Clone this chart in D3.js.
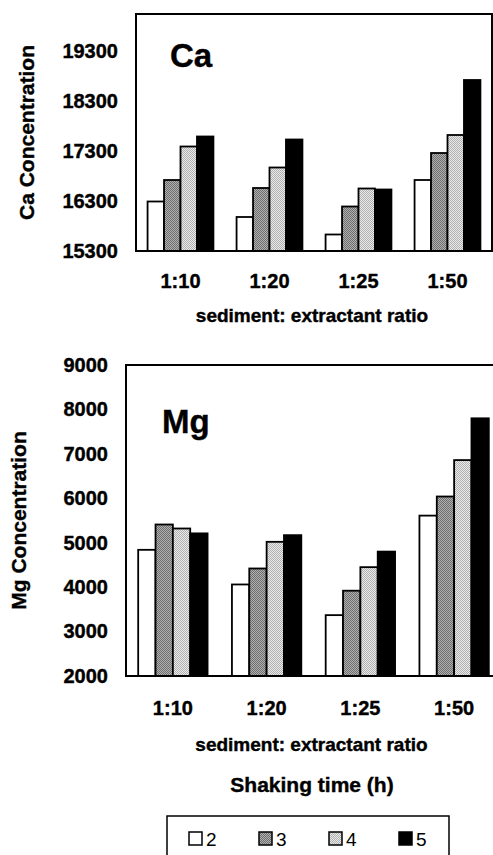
<!DOCTYPE html>
<html>
<head>
<meta charset="utf-8">
<script src="https://cdn.jsdelivr.net/npm/d3@7/dist/d3.min.js"></script>
<style>
  body { margin: 0; background: #fff; }
  svg { display: block; font-family: "Liberation Sans", Arial, Helvetica, sans-serif; }
  .heavy { stroke: #000; stroke-width: 0.4px; }
</style>
</head>
<body>
<svg id="chart" width="493" height="855"></svg>
<script>
"use strict";

// categories and series
var ratios = ['1:10', '1:20', '1:25', '1:50'];
var times = ['2', '3', '4', '5'];

// values by shaking time (rows) for each ratio (columns)
var caValues = [
  [16290, 15980, 15630, 16720],
  [16720, 16560, 16190, 17260],
  [17390, 16970, 16550, 17620],
  [17590, 17530, 16530, 18720]
];
var mgValues = [
  [4840, 4060, 3370, 5610],
  [5410, 4420, 3920, 6040],
  [5320, 5020, 4450, 6860],
  [5210, 5170, 4800, 7800]
];

var caTicks = [15300, 16300, 17300, 18300, 19300];
var mgTicks = [2000, 3000, 4000, 5000, 6000, 7000, 8000, 9000];

var svg = d3.select('#chart');

// fill patterns for the shaded series
var defs = svg.append('defs');
function checker(id, dark, light) {
  var p = defs.append('pattern')
    .attr('id', id)
    .attr('width', 2).attr('height', 2)
    .attr('patternUnits', 'userSpaceOnUse');
  p.append('rect').attr('width', 2).attr('height', 2).attr('fill', light);
  p.append('rect').attr('width', 1).attr('height', 1).attr('fill', dark);
  p.append('rect').attr('x', 1).attr('y', 1).attr('width', 1).attr('height', 1).attr('fill', dark);
}
checker('pat3', '#6e6e6e', '#b0b0b0');
checker('pat4', '#b0b0b0', '#eaeaea');

var fills = ['#ffffff', 'url(#pat3)', 'url(#pat4)', '#000000'];

function panel(o) {
  var x0 = d3.scaleBand()
    .domain(ratios)
    .range([o.left, o.right])
    .paddingInner(0.26)
    .paddingOuter(0.13);

  var x1 = d3.scaleBand()
    .domain(times)
    .range([0, x0.bandwidth()]);

  var y = d3.scaleLinear()
    .domain(o.domain)
    .range([o.bottom, o.top]);

  var g = svg.append('g');

  // bars
  times.forEach(function(t, i) {
    g.append('g').selectAll('rect')
      .data(o.values[i])
      .enter().append('rect')
        .attr('x', function(d, j) { return x0(ratios[j]) + x1(t); })
        .attr('y', function(d) { return y(d); })
        .attr('width', x1.bandwidth())
        .attr('height', function(d) { return o.bottom - y(d); })
        .attr('fill', fills[i])
        .attr('stroke', '#000')
        .attr('stroke-width', 1.8);
  });

  // frame
  g.append('rect')
    .attr('x', o.left).attr('y', o.top)
    .attr('width', o.right - o.left)
    .attr('height', o.bottom - o.top)
    .attr('fill', 'none')
    .attr('stroke', '#000')
    .attr('stroke-width', 2);

  var yAxis = d3.axisLeft(y).tickValues(o.ticks).tickSize(0).tickPadding(18).tickFormat(d3.format('d'));
  var ya = g.append('g')
    .attr('transform', 'translate(' + o.left + ',0)')
    .call(yAxis);
  ya.select('.domain').remove();
  ya.attr('font-family', null);
  ya.selectAll('text')
    .attr('class', 'heavy')
    .attr('font-size', 20)
    .attr('font-weight', 'bold')
    .attr('fill', '#000');

  var xAxis = d3.axisBottom(x0).tickSize(0).tickPadding(0);
  var xa = g.append('g')
    .attr('transform', 'translate(0,' + o.bottom + ')')
    .call(xAxis);
  xa.attr('font-family', null);
  xa.select('.domain').remove();
  xa.selectAll('text')
    .attr('class', 'heavy')
    .attr('y', o.tickBase)
    .attr('dy', null)
    .attr('font-size', 20)
    .attr('font-weight', 'bold')
    .attr('fill', '#000');

  g.append('text')
    .attr('class', 'heavy')
    .attr('x', (o.left + o.right) / 2 - 2)
    .attr('y', o.bottom + o.titleBase)
    .attr('text-anchor', 'middle')
    .attr('font-size', 19)
    .attr('font-weight', 'bold')
    .text('sediment: extractant ratio');

  g.append('text')
    .attr('class', 'heavy')
    .attr('transform', 'translate(' + o.yTitleX + ',' + ((o.top + o.bottom) / 2) + ') rotate(-90)')
    .attr('text-anchor', 'middle')
    .attr('dy', '0.35em')
    .attr('font-size', 21)
    .attr('font-weight', 'bold')
    .text(o.element + ' Concentration');

  g.append('text')
    .attr('class', 'heavy')
    .attr('x', o.labelX)
    .attr('y', o.labelY)
    .attr('font-size', 33)
    .attr('font-weight', 'bold')
    .text(o.element);
}

panel({
  left: 136, right: 492, top: 14, bottom: 251,
  domain: [15300, 20040], ticks: caTicks, values: caValues,
  element: 'Ca', labelX: 170, labelY: 67, yTitleX: 27,
  tickBase: 37, titleBase: 71
});

panel({
  left: 126, right: 501, top: 365, bottom: 676,
  domain: [2000, 9000], ticks: mgTicks, values: mgValues,
  element: 'Mg', labelX: 162, labelY: 433, yTitleX: 19,
  tickBase: 39, titleBase: 75
});

svg.append('text')
  .attr('class', 'heavy')
  .attr('x', 312)
  .attr('y', 792)
  .attr('text-anchor', 'middle')
  .attr('font-size', 21)
  .attr('font-weight', 'bold')
  .text('Shaking time (h)');

// legend
var legend = svg.append('g');
legend.append('rect')
  .attr('x', 167).attr('y', 816)
  .attr('width', 282).attr('height', 60)
  .attr('fill', 'none')
  .attr('stroke', '#000')
  .attr('stroke-width', 1.5);

var item = legend.selectAll('.item')
  .data(times)
  .enter().append('g')
    .attr('class', 'item')
    .attr('transform', function(d, i) { return 'translate(' + (189 + i * 70) + ',832)'; });
item.append('rect')
  .attr('width', 13).attr('height', 13)
  .attr('fill', function(d, i) { return fills[i]; })
  .attr('stroke', '#000')
  .attr('stroke-width', 1.5);
item.append('text')
  .attr('x', 17).attr('y', 13.5)
  .attr('font-size', 19)
  .text(function(d) { return d; });
</script>
</body>
</html>
